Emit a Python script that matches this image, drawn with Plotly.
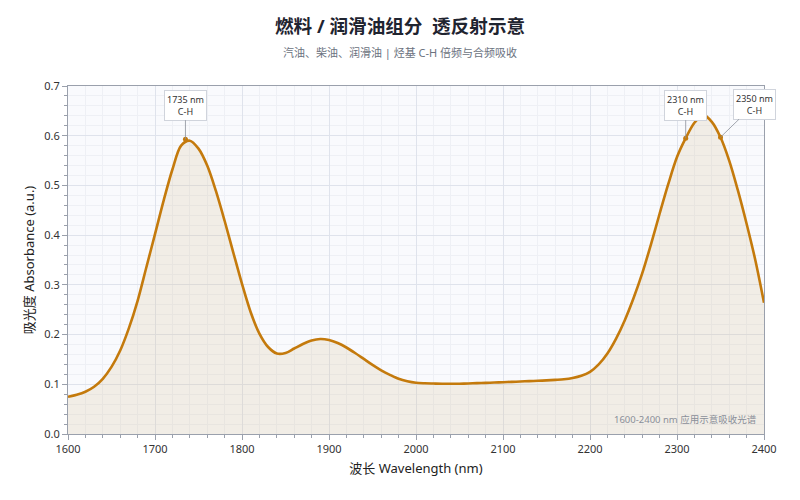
import plotly.graph_objects as go

wavelength = list(range(1600, 2401, 10))
absorbance = [0.075, 0.079, 0.085, 0.095, 0.111, 0.135, 0.168, 0.213, 0.268, 0.335,
              0.402, 0.470, 0.532, 0.580, 0.590, 0.574, 0.540, 0.489, 0.429, 0.365,
              0.302, 0.245, 0.202, 0.175, 0.162, 0.163, 0.172, 0.181, 0.188, 0.191,
              0.189, 0.183, 0.174, 0.163, 0.151, 0.139, 0.128, 0.119, 0.111, 0.106,
              0.103, 0.102, 0.1015, 0.101, 0.101, 0.1012, 0.1017, 0.1023, 0.1029, 0.1035,
              0.1042, 0.1049, 0.1056, 0.1063, 0.107, 0.1078, 0.1088, 0.110, 0.1125, 0.117,
              0.125, 0.140, 0.162, 0.192, 0.229, 0.273, 0.323, 0.381, 0.443, 0.503,
              0.557, 0.595, 0.626, 0.642, 0.628, 0.597, 0.550, 0.490, 0.423, 0.350,
              0.264]

peak_nm = [1735, 2310, 2350]
peak_abs = [0.593, 0.595, 0.597]
peak_labels = ["1735 nm<br>C-H", "2310 nm<br>C-H", "2350 nm<br>C-H"]
peak_ax = [0, 0, 34]
peak_ay = [-34, -33, -33]

title = "燃料 / 润滑油组分  透反射示意"
subtitle = "汽油、柴油、润滑油 | 烃基 C-H 倍频与合频吸收"
note = "1600-2400 nm 应用示意吸收光谱"

FONT = "Noto Sans, Noto Sans CJK SC, sans-serif"
LINE = "#c47a0c"

fig = go.Figure()
fig.add_trace(go.Scatter(
    x=wavelength, y=absorbance, mode="lines",
    line=dict(color=LINE, width=2.6, shape="spline", smoothing=0.9),
    fill="tozeroy", fillcolor="rgba(214,190,150,0.22)",
    showlegend=False, hoverinfo="skip"))
fig.add_trace(go.Scatter(
    x=peak_nm, y=peak_abs, mode="markers",
    marker=dict(color=LINE, size=5), showlegend=False, hoverinfo="skip"))

for xv, yv, txt, ax, ay in zip(peak_nm, peak_abs, peak_labels, peak_ax, peak_ay):
    fig.add_annotation(x=xv, y=yv, text=txt, showarrow=True, arrowhead=0,
                       arrowwidth=0.8, arrowcolor="#8a8f99", ax=ax, ay=ay,
                       bgcolor="white", bordercolor="#d0d4dc", borderwidth=1, borderpad=2,
                       font=dict(size=9, color="#333", family=FONT))

fig.add_annotation(x=1, y=0, xref="paper", yref="paper", xanchor="right", yanchor="bottom",
                   xshift=-5, yshift=6, text=note, showarrow=False,
                   font=dict(size=9.5, color="#8a8f99", family=FONT))

fig.update_layout(
    width=800, height=500,
    margin=dict(l=68, r=36, t=86, b=66),
    paper_bgcolor="white", plot_bgcolor="#f9fafd",
    font=dict(family=FONT, color="#333"),
    title=dict(text=f"<b>{title}</b><br><span style='font-size:11px;color:#6b7280'>{subtitle}</span>",
               x=0.5, xanchor="center", y=0.935, yanchor="top",
               font=dict(size=18.6, color="#1f2430", family=FONT)),
)
axis_common = dict(showline=True, linecolor="#9aa0ac", linewidth=1, mirror=True,
                   ticks="outside", ticklen=5, tickcolor="#9aa0ac",
                   gridcolor="#dfe3ec", gridwidth=1, zeroline=False,
                   tickfont=dict(size=11, color="#333", family=FONT))
fig.update_xaxes(range=[1600, 2400], dtick=100,
                 title=dict(text="波长 Wavelength (nm)", standoff=8,
                            font=dict(size=13, color="#222", family=FONT)),
                 minor=dict(dtick=20, showgrid=True, gridcolor="#eef0f5", ticks="outside",
                            ticklen=3, tickcolor="#9aa0ac"),
                 **axis_common)
fig.update_yaxes(range=[0, 0.7], dtick=0.1, tickformat=".1f",
                 title=dict(text="吸光度 Absorbance (a.u.)", standoff=6,
                            font=dict(size=13, color="#222", family=FONT)),
                 minor=dict(dtick=0.02, showgrid=True, gridcolor="#eef0f5", ticks="outside",
                            ticklen=3, tickcolor="#9aa0ac"),
                 **axis_common)

fig.write_html("out.html", config={"displayModeBar": False},
               post_script="document.body.style.margin='0';document.body.style.padding='0';")
